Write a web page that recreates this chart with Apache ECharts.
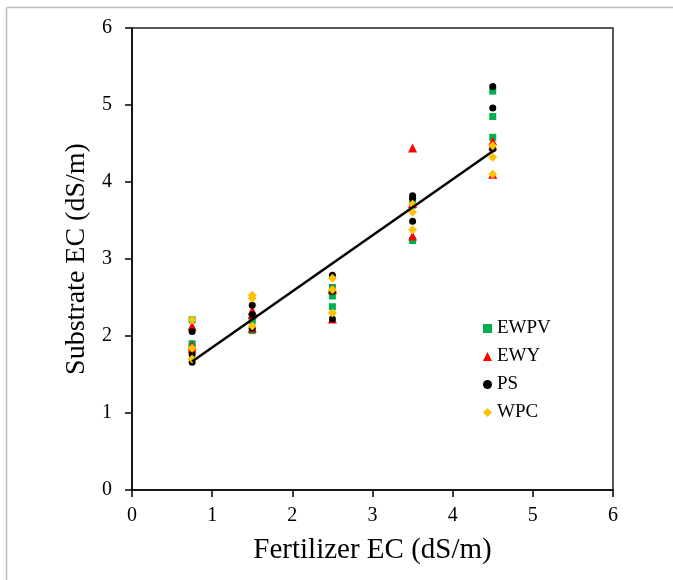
<!DOCTYPE html>
<html><head><meta charset="utf-8">
<script src="https://cdn.jsdelivr.net/npm/echarts@6/dist/echarts.min.js"></script>
<style>html,body{margin:0;padding:0;background:#fff}#c{width:673px;height:580px}</style>
</head><body><div id="c"></div>
<script>
// Fertilizer EC levels (x) and substrate EC readings (y) for each substrate
const levels = [0.75, 0.75, 0.75, 1.5, 1.5, 1.5, 2.5, 2.5, 2.5, 3.5, 3.5, 3.5, 4.5, 4.5, 4.5];
const EWPV = [2.21, 1.90, 1.86, 2.25, 2.07, 2.20, 2.63, 2.52, 2.38, 3.24, 3.70, 3.75, 5.18, 4.85, 4.58];
const EWY  = [2.13, 1.88, 1.84, 2.33, 2.10, 2.28, 2.62, 2.22, 2.60, 4.44, 3.30, 3.72, 4.53, 4.10, 4.47];
const PS   = [2.06, 1.76, 1.66, 2.40, 2.28, 2.10, 2.79, 2.22, 2.58, 3.82, 3.79, 3.49, 5.24, 4.96, 4.43];
const WPC  = [2.21, 1.84, 1.70, 2.53, 2.49, 2.13, 2.75, 2.60, 2.30, 3.71, 3.61, 3.38, 4.47, 4.32, 4.10];
// Linear fit drawn over the data range
const fitSlope = 0.728, fitIntercept = 1.124;
const fitX = [0.75, 4.5];
const xTicks = [0, 1, 2, 3, 4, 5, 6];
const yTicks = [0, 1, 2, 3, 4, 5, 6];

const pairs = ys => levels.map((x, i) => [x, ys[i]]);
const font = 'Liberation Serif, Times New Roman, serif';
const chart = echarts.init(document.getElementById('c'));
const mk = (name, data, symbol, size, color) => ({
  name, type: 'scatter', data: pairs(data), symbol, symbolSize: size,
  itemStyle: { color, opacity: 1 }, z: 3
});
chart.setOption({
  animation: false,
  graphic: [
    { type: 'line', shape: { x1: 6.5, y1: 7.5, x2: 673, y2: 7.5 }, style: { stroke: '#bdbdbd', lineWidth: 1.5 } },
    { type: 'line', shape: { x1: 6.5, y1: 7.5, x2: 6.5, y2: 580 }, style: { stroke: '#bdbdbd', lineWidth: 1.5 } }
  ],
  grid: { left: 132, top: 28, right: 60, bottom: 90, show: true, borderColor: '#222', borderWidth: 1.5, backgroundColor: 'transparent' },
  legend: {
    orient: 'vertical', left: 478, top: 314, itemGap: 9, itemWidth: 9, itemHeight: 9,
    textStyle: { fontFamily: font, fontSize: 19, color: '#000' },
    data: [
      { name: 'EWPV', icon: 'rect', itemStyle: { color: '#00B050' } },
      { name: 'EWY', icon: 'triangle', itemStyle: { color: '#FF0000' } },
      { name: 'PS', icon: 'circle', itemStyle: { color: '#000' } },
      { name: 'WPC', icon: 'diamond', itemStyle: { color: '#FFC000' } }
    ]
  },
  xAxis: {
    type: 'value', min: xTicks[0], max: xTicks[xTicks.length - 1], interval: 1,
    name: 'Fertilizer EC (dS/m)', nameLocation: 'middle', nameGap: 46,
    nameTextStyle: { fontFamily: font, fontSize: 29, color: '#000' },
    axisLine: { show: true, lineStyle: { color: '#000', width: 1.5 } },
    axisTick: { show: true, inside: false, length: 7, lineStyle: { color: '#000', width: 1.5 } },
    axisLabel: { fontFamily: font, fontSize: 20, color: '#000', margin: 16 },
    splitLine: { show: false }
  },
  yAxis: {
    type: 'value', min: yTicks[0], max: yTicks[yTicks.length - 1], interval: 1,
    name: 'Substrate EC (dS/m)', nameLocation: 'middle', nameGap: 31, nameRotate: 90,
    nameTextStyle: { fontFamily: font, fontSize: 28, color: '#000' },
    axisLine: { show: true, lineStyle: { color: '#000', width: 1.5 } },
    axisTick: { show: true, inside: false, length: 7, lineStyle: { color: '#000', width: 1.5 } },
    axisLabel: { fontFamily: font, fontSize: 20, color: '#000', margin: 20 },
    splitLine: { show: false }
  },
  series: [
    mk('EWPV', EWPV, 'rect', 7, '#00B050'),
    mk('EWY', EWY, 'triangle', 9, '#FF0000'),
    mk('PS', PS, 'circle', 7, '#000'),
    mk('WPC', WPC, 'diamond', 9, '#FFC000'),
    {
      name: 'fit', type: 'line', symbol: 'none', z: 4,
      data: fitX.map(x => [x, fitIntercept + fitSlope * x]),
      lineStyle: { color: '#000', width: 2.5 }
    }
  ]
});
</script></body></html>
